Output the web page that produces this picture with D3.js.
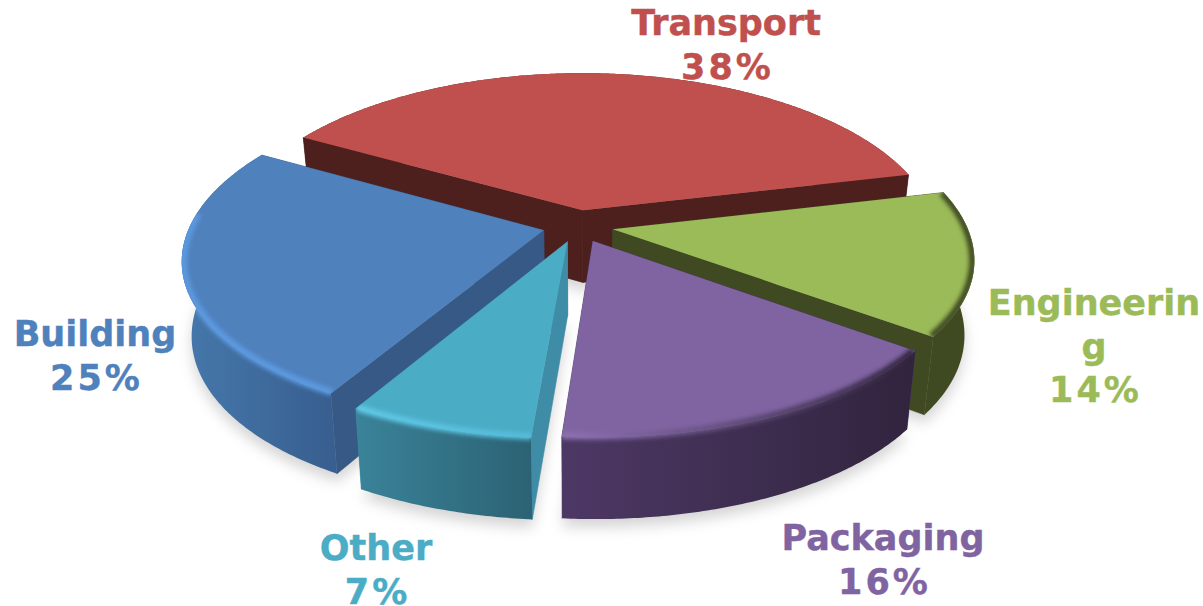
<!DOCTYPE html>
<html>
<head>
<meta charset="utf-8">
<script src="https://cdn.jsdelivr.net/npm/d3@7"></script>
<style>
html, body { margin: 0; padding: 0; background: #fff; overflow: hidden; }
text { font-family: "DejaVu Sans", Verdana, sans-serif; font-weight: bold; font-size: 35px; text-anchor: middle; stroke-width: 0.4px; }
</style>
</head>
<body>
<div id="chart"></div>
<script>
var categories = ["Transport", "Engineering", "Packaging", "Other", "Building"];
var values = [38, 14, 16, 7, 25];
var valueLabels = ["38%", "14%", "16%", "7%", "25%"];

var topColors = ["#c0504d", "#9bbb59", "#8064a2", "#4bacc6", "#4f81bd"];
var sideColors = ["#4d1f1d", "#3f4a22", "#4a3660", "#3e8ca6", "#365a85"];
var wallLeft = ["#4d1f1d", "#3f4a22", "#4d3865", "#3a8399", "#4678ab"];
var wallRight = ["#4d1f1d", "#3f4a22", "#31243e", "#2c6274", "#385f90"];
var rimLeft = ["#c0504d", "#3f4a22", "#8d72b2", "#5fc8e6", "#5c9ae0"];
var rimRight = ["#c0504d", "#3f4a22", "#33263f", "#55bbd8", "#5c9ae0"];

// label lines and where they sit, "Engineering" wraps in the source
var labelLines = [["Transport"], ["Engineerin", "g"], ["Packaging"], ["Other"], ["Building"]];
var labelX = [726, 1094, 883, 376, 95];
var labelY = [35, 315, 550, 560, 346];
var lineStep = 43.5;

var width = 1203, height = 606;
var cx = 578, cy = 226;      // pie centre on screen
var Rx = 354, Ry = 162;      // radii at z = 0
var perspX = 0.17, perspY = 0.15;   // near side larger than far side
var explode = 0.1;
var converge = 0.975;

var svg = d3.select("#chart").append("svg")
    .attr("width", width)
    .attr("height", height);
var defs = svg.append("defs");

defs.append("filter").attr("id", "shadowBlur")
    .attr("x", "-20%").attr("y", "-20%").attr("width", "140%").attr("height", "140%")
    .append("feGaussianBlur").attr("stdDeviation", 7);
defs.append("filter").attr("id", "rimBlur")
    .attr("filterUnits", "userSpaceOnUse")
    .attr("x", 0).attr("y", 0).attr("width", width).attr("height", height)
    .append("feGaussianBlur").attr("stdDeviation", 2);

var pie = d3.pie().sort(null)
    .startAngle(-60.3 * Math.PI / 180)
    .endAngle(299.7 * Math.PI / 180);

var slices = pie(values).map(function(d, i) {
  var mid = (d.startAngle + d.endAngle) / 2;
  return {
    i: i,
    a0: d.startAngle,
    a1: d.endAngle,
    ex: explode * Math.sin(mid),
    ez: -explode * Math.cos(mid)
  };
});

function wallHeight(z) { return 73 + 8 * z; }

// ground point of a slice to screen, drop = true gives the lower face
function project(s, a, r, drop) {
  var gx = s.ex + r * Math.sin(a),
      gz = s.ez - r * Math.cos(a),
      x = Rx * gx / (1 - perspX * gz),
      y = Ry * gz / (1 - perspY * gz);
  if (drop) {
    x *= converge;
    y += wallHeight(gz);
  }
  return [cx + x, cy + y];
}

function arcAngles(s) {
  var n = Math.ceil((s.a1 - s.a0) / 0.01);
  return d3.range(n + 1).map(function(j) { return s.a0 + (s.a1 - s.a0) * j / n; });
}

var line = d3.line();
function closed(pts) { return line(pts) + "Z"; }

function facePath(s, drop) {
  var pts = [project(s, 0, 0, drop)];
  arcAngles(s).forEach(function(a) { pts.push(project(s, a, 1, drop)); });
  return closed(pts);
}

function outerWallPath(s) {
  var as = arcAngles(s);
  var upper = as.map(function(a) { return project(s, a, 1, false); });
  var lower = as.slice().reverse().map(function(a) { return project(s, a, 1, true); });
  return closed(upper.concat(lower));
}

function radialWallPath(s, a) {
  return closed([project(s, a, 0, false), project(s, a, 1, false),
                 project(s, a, 1, true), project(s, a, 0, true)]);
}

function rimPath(s) {
  var zMin = s.i === 1 ? -0.3 : -0.08;
  var as = arcAngles(s).filter(function(a) { return s.ez - Math.cos(a) > zMin; });
  return line(as.map(function(a) { return project(s, a, 0.995, false); }));
}

// horizontal shading for the outer walls and rims
slices.forEach(function(s) {
  var xs = arcAngles(s).map(function(a) { return project(s, a, 1, false)[0]; });
  [["wall", wallLeft, wallRight], ["rim", rimLeft, rimRight]].forEach(function(p) {
    var g = defs.append("linearGradient")
        .attr("id", p[0] + s.i)
        .attr("gradientUnits", "userSpaceOnUse")
        .attr("x1", d3.min(xs)).attr("x2", d3.max(xs))
        .attr("y1", 0).attr("y2", 0);
    g.append("stop").attr("offset", "0%").attr("stop-color", p[1][s.i]);
    g.append("stop").attr("offset", "100%").attr("stop-color", p[2][s.i]);
  });
  defs.append("clipPath").attr("id", "clip" + s.i)
    .append("path").attr("d", facePath(s, false) + outerWallPath(s));
});

// soft ground shadow under everything
svg.append("g").selectAll("path")
    .data(slices)
  .join("path")
    .attr("d", function(s) { return facePath(s, true); })
    .attr("transform", "translate(0,8)")
    .attr("fill", "#000")
    .attr("fill-opacity", 0.17)
    .attr("filter", "url(#shadowBlur)");

var order = slices.slice().sort(function(a, b) {
  return Math.cos((a.a0 + a.a1) / 2) < Math.cos((b.a0 + b.a1) / 2) ? 1 : -1;
});

order.forEach(function(s) {
  var g = svg.append("g").attr("class", "slice");
  [s.a0, s.a1].forEach(function(a) {
    g.append("path").attr("d", radialWallPath(s, a))
      .attr("fill", sideColors[s.i])
      .attr("stroke", sideColors[s.i])
      .attr("stroke-width", 0.6);
  });
  g.append("path").attr("d", outerWallPath(s)).attr("fill", "url(#wall" + s.i + ")");
  g.append("path").attr("d", facePath(s, false)).attr("fill", topColors[s.i]);
  if (s.i !== 0) {
    g.append("g").attr("clip-path", "url(#clip" + s.i + ")")
      .append("path")
        .attr("d", rimPath(s))
        .attr("fill", "none")
        .attr("stroke", "url(#rim" + s.i + ")")
        .attr("stroke-width", 7)
        .attr("filter", "url(#rimBlur)");
  }
});

var labels = svg.append("g").selectAll("text")
    .data(categories)
  .join("text")
    .attr("fill", function(d, i) { return topColors[i]; })
    .attr("stroke", function(d, i) { return topColors[i]; })
    .attr("x", function(d, i) { return labelX[i]; })
    .attr("y", function(d, i) { return labelY[i]; });

labels.each(function(d, i) {
  var t = d3.select(this);
  labelLines[i].forEach(function(str, j) {
    t.append("tspan")
      .attr("x", labelX[i])
      .attr("y", labelY[i] + j * lineStep)
      .text(str);
  });
  // percent glyphs run wider in the source font
  t.append("tspan")
    .attr("x", labelX[i] + 1.5)
    .attr("y", labelY[i] + labelLines[i].length * lineStep)
    .attr("letter-spacing", 3)
    .text(valueLabels[i]);
});
</script>
</body>
</html>
